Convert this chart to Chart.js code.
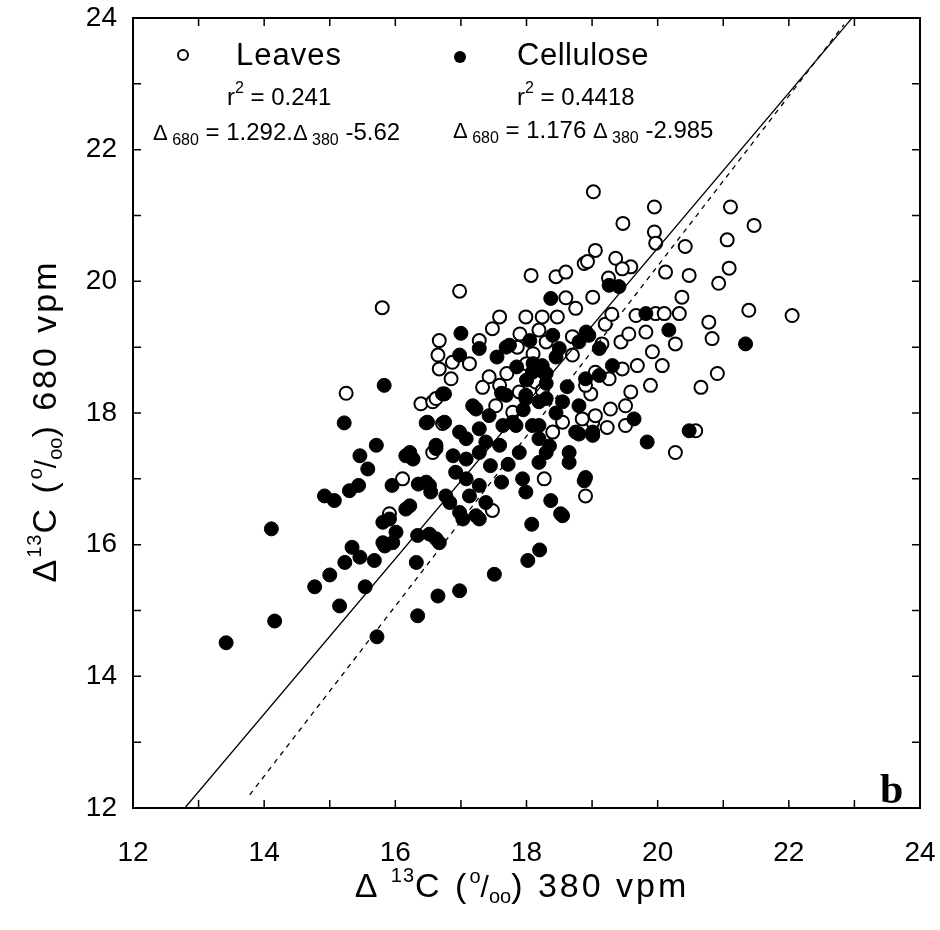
<!DOCTYPE html>
<html>
<head>
<meta charset="utf-8">
<script src="https://cdn.jsdelivr.net/npm/chart.js@4.4.1/dist/chart.umd.min.js"></script>
<style>
  html, body { margin: 0; padding: 0; background: #fff; }
  #wrap { width: 940px; height: 930px; }
</style>
</head>
<body>
<div id="wrap"><canvas id="chart" width="940" height="930"></canvas></div>
<script>
// Δ13C 380 vpm (x) vs 680 vpm (y), leaves (open) and cellulose (filled)
var leaves = [
  [16.98,19.85],[15.80,19.60],[15.25,18.30],[15.91,16.47],[16.11,17.00],[18.27,17.00],[17.48,16.52],[18.90,16.74],
  [18.07,20.09],[18.45,20.07],[18.60,20.14],[18.88,20.27],[19.01,19.76],[18.75,19.59],[17.99,19.46],[18.24,19.46],
  [18.47,19.46],[17.59,19.46],[17.48,19.28],[17.28,19.10],[16.67,19.10],[16.65,18.88],[16.67,18.67],[16.87,18.77],
  [17.13,18.75],[16.85,18.52],[16.39,18.14],[16.57,18.17],[17.86,19.00],[17.43,18.55],[17.59,18.42],[18.19,19.26],
  [18.30,19.08],[18.70,19.16],[18.70,18.88],[18.14,18.47],[18.24,18.34],[18.98,18.29],[19.01,17.86],[18.55,17.86],
  [18.40,17.71],[17.53,18.11],[17.79,18.01],[17.33,18.39],[16.72,17.84],[16.57,17.40],[19.02,21.36],[19.95,21.13],
  [21.11,21.13],[21.47,20.85],[19.47,20.88],[19.95,20.75],[19.97,20.58],[20.42,20.53],[21.06,20.63],[19.05,20.47],
  [18.93,20.30],[19.36,20.35],[19.59,20.22],[19.46,20.19],[20.12,20.14],[20.48,20.09],[21.09,20.20],[20.93,19.97],
  [20.37,19.76],[21.39,19.56],[22.05,19.48],[19.67,19.48],[19.97,19.51],[20.10,19.51],[20.33,19.51],[20.78,19.38],
  [20.83,19.13],[19.44,19.08],[19.56,19.20],[19.82,19.23],[19.92,18.93],[20.07,18.72],[20.27,19.05],[19.69,18.72],
  [19.46,18.67],[20.91,18.60],[20.66,18.39],[19.89,18.42],[19.59,18.32],[19.28,18.06],[19.51,18.11],[19.23,17.78],
  [19.51,17.81],[20.58,17.73],[20.27,17.40],[18.90,18.42],[19.05,18.62],[19.26,18.52],[18.85,17.91],[19.05,17.96],
  [17.89,18.32],[16.62,18.22],[19.20,19.35],[19.30,19.50],[18.60,19.75],[18.10,18.90],[17.70,18.60],[19.25,20.05],
  [17.90,19.20],[18.00,18.75],[19.15,19.05]
];

var cellulose = [
  [13.42,14.51],[14.11,16.24],[14.16,14.84],[14.77,15.36],[15.00,15.54],[15.15,15.07],[14.92,16.74],[15.07,16.67],
  [15.30,16.82],[15.44,16.90],[15.58,17.15],[15.95,16.90],[15.81,16.34],[15.34,15.96],[15.46,15.81],[15.23,15.73],
  [15.68,15.76],[15.84,15.98],[15.96,16.03],[15.54,15.36],[15.72,14.60],[16.34,14.92],[16.65,15.22],[16.98,15.30],
  [17.51,15.55],[18.02,15.76],[18.20,15.92],[18.08,16.31],[18.52,16.47],[18.37,16.67],[18.88,16.97],[16.32,15.73],
  [16.67,16.03],[16.34,16.14],[16.52,16.16],[17.94,17.00],[17.99,16.80],[16.52,16.90],[16.22,16.59],[16.83,16.64],
  [17.03,16.39],[17.23,16.44],[17.13,16.74],[17.38,16.64],[17.08,17.00],[17.28,16.90],[18.19,17.25],[18.65,17.25],
  [18.37,19.74],[15.83,18.42],[15.22,17.85],[16.47,17.85],[17.00,19.21],[16.98,18.88],[17.28,18.98],[17.69,19.00],
  [16.72,18.29],[16.49,17.86],[16.75,17.86],[17.85,18.70],[18.10,18.75],[18.30,18.60],[18.00,18.50],[18.30,18.45],
  [18.40,19.18],[18.50,18.98],[18.80,19.08],[18.91,19.23],[18.90,18.52],[19.11,18.57],[17.99,18.22],[18.19,18.17],
  [18.55,18.17],[18.80,18.11],[17.23,18.06],[17.43,17.96],[17.28,17.76],[17.64,17.81],[17.84,17.81],[18.19,17.81],
  [18.19,17.61],[17.08,17.61],[17.38,17.56],[17.59,17.51],[16.62,17.51],[16.98,17.71],[18.80,17.68],[19.01,17.71],
  [17.89,17.40],[18.30,17.40],[16.22,17.40],[17.28,17.40],[17.18,18.11],[15.71,17.51],[15.46,17.35],[16.16,17.35],
  [16.27,17.30],[16.62,17.46],[16.88,17.35],[17.08,17.30],[16.47,16.95],[16.54,16.80],[16.16,16.54],[15.91,16.39],
  [16.77,16.74],[16.98,16.49],[17.28,16.39],[18.55,16.44],[19.26,19.94],[19.41,19.92],[19.82,19.51],[20.17,19.26],
  [21.34,19.05],[20.48,17.73],[19.84,17.56],[19.64,17.91],[18.95,19.18],[19.11,18.98],[19.31,18.72],[18.75,17.71],
  [19.01,17.66],[18.35,17.50],[18.65,17.40],[18.90,17.02],[18.09,18.62],[18.24,18.72],[17.74,19.03],[17.69,18.27],
  [17.99,18.27],[18.30,18.22],[17.79,17.86],[18.09,17.81],[15.81,16.03],[16.01,16.19],[16.62,16.09],[16.75,18.29],
  [17.55,18.85],[17.62,18.30],[17.95,18.05],[18.45,18.00],[18.62,18.40],[17.45,17.20],[17.72,17.22],[17.62,16.95],
  [16.92,17.10],[16.35,16.92],[18.05,19.10],[18.45,18.85]
];

// regression lines, end points
var celluloseFitX = [12.79, 22.99];
var celluloseFitY = [12.00, 24.03];
var leavesFitX = [13.78, 22.84];
var leavesFitY = [12.20, 23.90];

var axisMin = 12;
var axisMax = 24;
var labelStep = 2;
var minorStep = 1;

var SANS = '"Liberation Sans", Arial, sans-serif';

function toPoints(arr) {
  return arr.map(function (p) { return { x: p[0], y: p[1] }; });
}
function linePoints(xs, ys) {
  return xs.map(function (x, i) { return { x: x, y: ys[i] }; });
}

// text pieces with sub/superscripts, left to right from x on baseline y
function runWidth(ctx, parts) {
  var w = 0;
  parts.forEach(function (p) {
    ctx.font = (p.bold ? 'bold ' : '') + p.size + 'px ' + (p.family || SANS);
    ctx.letterSpacing = (p.ls || 0) + 'px';
    w += ctx.measureText(p.t).width;
  });
  return w;
}
function drawRun(ctx, parts, x, y) {
  parts.forEach(function (p) {
    ctx.font = (p.bold ? 'bold ' : '') + p.size + 'px ' + (p.family || SANS);
    ctx.letterSpacing = (p.ls || 0) + 'px';
    ctx.fillText(p.t, x, y + (p.dy || 0));
    x += ctx.measureText(p.t).width;
  });
  ctx.letterSpacing = '0px';
}

var xTitle = [
  { t: 'Δ ', size: 34, ls: 2 },
  { t: '13', size: 20, dy: -15, ls: 1 },
  { t: 'C (', size: 34, ls: 3 },
  { t: 'o', size: 20, dy: -14 },
  { t: '/', size: 30 },
  { t: 'oo', size: 20, dy: 6 },
  { t: ') 380 vpm', size: 34, ls: 3 }
];
var yTitle = [
  { t: 'Δ', size: 34, ls: 2 },
  { t: '13', size: 20, dy: -15, ls: 1 },
  { t: 'C (', size: 34, ls: 3 },
  { t: 'o', size: 20, dy: -14 },
  { t: '/', size: 30 },
  { t: 'oo', size: 20, dy: 6 },
  { t: ') 680 vpm', size: 34, ls: 3 }
];

var framePlugin = {
  id: 'frame',
  afterDatasetsDraw: function (chart) {
    var ctx = chart.ctx, a = chart.chartArea;
    var xs = chart.scales.x, ys = chart.scales.y;
    ctx.save();
    ctx.strokeStyle = '#000';
    ctx.lineWidth = 2;
    ctx.strokeRect(a.left, a.top, a.right - a.left, a.bottom - a.top);
    ctx.lineWidth = 1.5;
    ctx.beginPath();
    for (var v = axisMin + minorStep; v < axisMax; v += minorStep) {
      var px = xs.getPixelForValue(v), py = ys.getPixelForValue(v);
      ctx.moveTo(px, a.bottom); ctx.lineTo(px, a.bottom - 8);
      ctx.moveTo(px, a.top); ctx.lineTo(px, a.top + 8);
      ctx.moveTo(a.left, py); ctx.lineTo(a.left + 8, py);
      ctx.moveTo(a.right, py); ctx.lineTo(a.right - 8, py);
    }
    ctx.stroke();
    ctx.restore();
  },
  afterDraw: function (chart) {
    var ctx = chart.ctx, a = chart.chartArea;
    ctx.save();
    ctx.fillStyle = '#000';
    ctx.textBaseline = 'alphabetic';
    ctx.textAlign = 'left';

    // legend markers
    ctx.lineWidth = 2;
    ctx.strokeStyle = '#000';
    ctx.beginPath(); ctx.arc(183, 55, 5, 0, Math.PI * 2); ctx.stroke();
    ctx.beginPath(); ctx.arc(460, 57, 6, 0, Math.PI * 2); ctx.fill();

    // legend text
    drawRun(ctx, [{ t: 'Leaves', size: 31, ls: 1 }], 236, 65);
    drawRun(ctx, [{ t: 'Cellulose', size: 31, ls: 0.5 }], 517, 65);
    drawRun(ctx, [{ t: 'r', size: 24 }, { t: '2', size: 16, dy: -12 }, { t: ' = 0.241', size: 24 }], 227, 105);
    drawRun(ctx, [{ t: 'r', size: 24 }, { t: '2', size: 16, dy: -12 }, { t: ' = 0.4418', size: 24 }], 517, 105);
    drawRun(ctx, [
      { t: 'Δ', size: 22 }, { t: ' 680', size: 16, dy: 5 }, { t: ' = 1.292.', size: 24 },
      { t: 'Δ', size: 22 }, { t: ' 380', size: 16, dy: 5 }, { t: ' -5.62', size: 24 }
    ], 153, 140);
    drawRun(ctx, [
      { t: 'Δ', size: 22 }, { t: ' 680', size: 16, dy: 5 }, { t: ' = 1.176 ', size: 24 },
      { t: 'Δ', size: 22 }, { t: ' 380', size: 16, dy: 5 }, { t: ' -2.985', size: 24 }
    ], 453, 138);

    // panel letter
    drawRun(ctx, [{ t: 'b', size: 42, bold: true, family: '"Liberation Serif", serif' }], a.right - 40, a.bottom - 5);

    // x axis title
    var wx = runWidth(ctx, xTitle);
    drawRun(ctx, xTitle, 522 - wx / 2, 897);

    // y axis title (rotated)
    var wy = runWidth(ctx, yTitle);
    ctx.translate(56, 421);
    ctx.rotate(-Math.PI / 2);
    drawRun(ctx, yTitle, -wy / 2, 0);
    ctx.restore();
  }
};

new Chart(document.getElementById('chart'), {
  type: 'scatter',
  data: {
    datasets: [
      {
        label: 'Cellulose',
        data: toPoints(cellulose),
        pointStyle: 'circle',
        pointRadius: 7,
        pointBackgroundColor: '#000',
        pointBorderColor: '#000',
        pointBorderWidth: 1,
        order: 1
      },
      {
        label: 'Leaves',
        data: toPoints(leaves),
        pointStyle: 'circle',
        pointRadius: 6.5,
        pointBackgroundColor: '#fff',
        pointBorderColor: '#000',
        pointBorderWidth: 2,
        order: 2
      },
      {
        type: 'line',
        label: 'Cellulose fit',
        data: linePoints(celluloseFitX, celluloseFitY),
        borderColor: '#000',
        borderWidth: 1.3,
        pointRadius: 0,
        fill: false,
        order: 0
      },
      {
        type: 'line',
        label: 'Leaves fit',
        data: linePoints(leavesFitX, leavesFitY),
        borderColor: '#000',
        borderWidth: 1.3,
        borderDash: [5, 5],
        pointRadius: 0,
        fill: false,
        order: 0
      }
    ]
  },
  options: {
    responsive: false,
    animation: false,
    layout: { padding: { top: 18, right: 20, left: 0, bottom: 0 } },
    plugins: {
      legend: { display: false },
      tooltip: { enabled: false }
    },
    scales: {
      x: {
        type: 'linear',
        min: axisMin,
        max: axisMax,
        grid: { display: false, drawTicks: false },
        border: { display: false },
        ticks: {
          stepSize: labelStep,
          color: '#000',
          padding: 28,
          maxRotation: 0,
          font: { family: SANS, size: 28 }
        },
        afterFit: function (s) {
          s.height = 122;
          s.paddingLeft = 0;
          s.paddingRight = 0;
        }
      },
      y: {
        type: 'linear',
        min: axisMin,
        max: axisMax,
        grid: { display: false, drawTicks: false },
        border: { display: false },
        ticks: {
          stepSize: labelStep,
          color: '#000',
          padding: 16,
          font: { family: SANS, size: 28 }
        },
        afterFit: function (s) {
          s.width = 133;
          s.paddingTop = 0;
          s.paddingBottom = 0;
        }
      }
    }
  },
  plugins: [framePlugin]
});
</script>
</body>
</html>
